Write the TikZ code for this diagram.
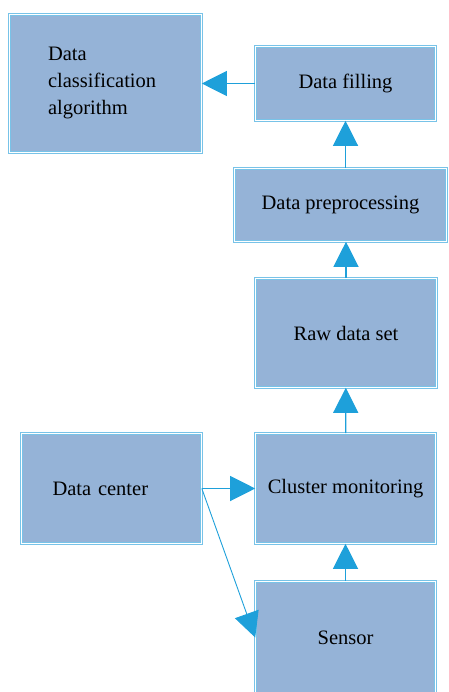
\documentclass[tikz,border=0pt]{standalone}
\usepackage{fontspec}
\setmainfont{Liberation Serif}
\usetikzlibrary{arrows.meta}
\definecolor{boxblue}{RGB}{149,179,215}
\definecolor{edgeblue}{RGB}{120,195,232}
\definecolor{arrowblue}{RGB}{30,160,218}
\begin{document}
\begin{tikzpicture}[x=1pt,y=-1pt,>={Triangle[length=25pt,width=25pt]},
    main node/.style={rectangle,draw=edgeblue,double=white,double distance=1.6pt,line width=0.6pt,
      fill=boxblue,font=\fontsize{20.5}{27}\selectfont,minimum width=180pt,inner sep=0pt},
    link/.style={->,color=arrowblue,line width=1.2pt}]
  \useasboundingbox (0,0) rectangle (448,692);
  \begin{scope}
    \node[main node,minimum width=192pt,minimum height=138pt,text width=115pt,align=left] (algo) at (105.5,83.5) {Data\\classification\\algorithm};
    \node[main node,minimum height=74pt] (fill) at (345.5,83.5) {Data filling};
    \node[main node,minimum width=212pt,minimum height=73pt] (prep) at (340.5,205) {Data preprocessing};
    \node[main node,minimum width=181pt,minimum height=109pt] (raw) at (346,333) {Raw data set};
    \node[main node,minimum height=110pt,text width=118pt,align=left] (center) at (111.5,488.5) {Data center};
    \node[main node,minimum height=110pt] (cluster) at (345.5,488.5) {Cluster monitoring};
    \node[main node,minimum height=112pt] (sensor) at (345.5,637.5) {Sensor};
    \draw[link] (fill) -- (algo);
    \draw[link] (prep.north -| fill) -- (fill.south);
    \draw[link] (raw.north) -- (prep.south -| raw);
    \draw[link] (cluster) -- (raw);
    \draw[link] (sensor) -- (cluster);
    \draw[link] (center.east) -- (cluster.west);
    \draw[link,line width=0.9pt] (center.east) -- (sensor.west);
  \end{scope}
\end{tikzpicture}
\end{document}
